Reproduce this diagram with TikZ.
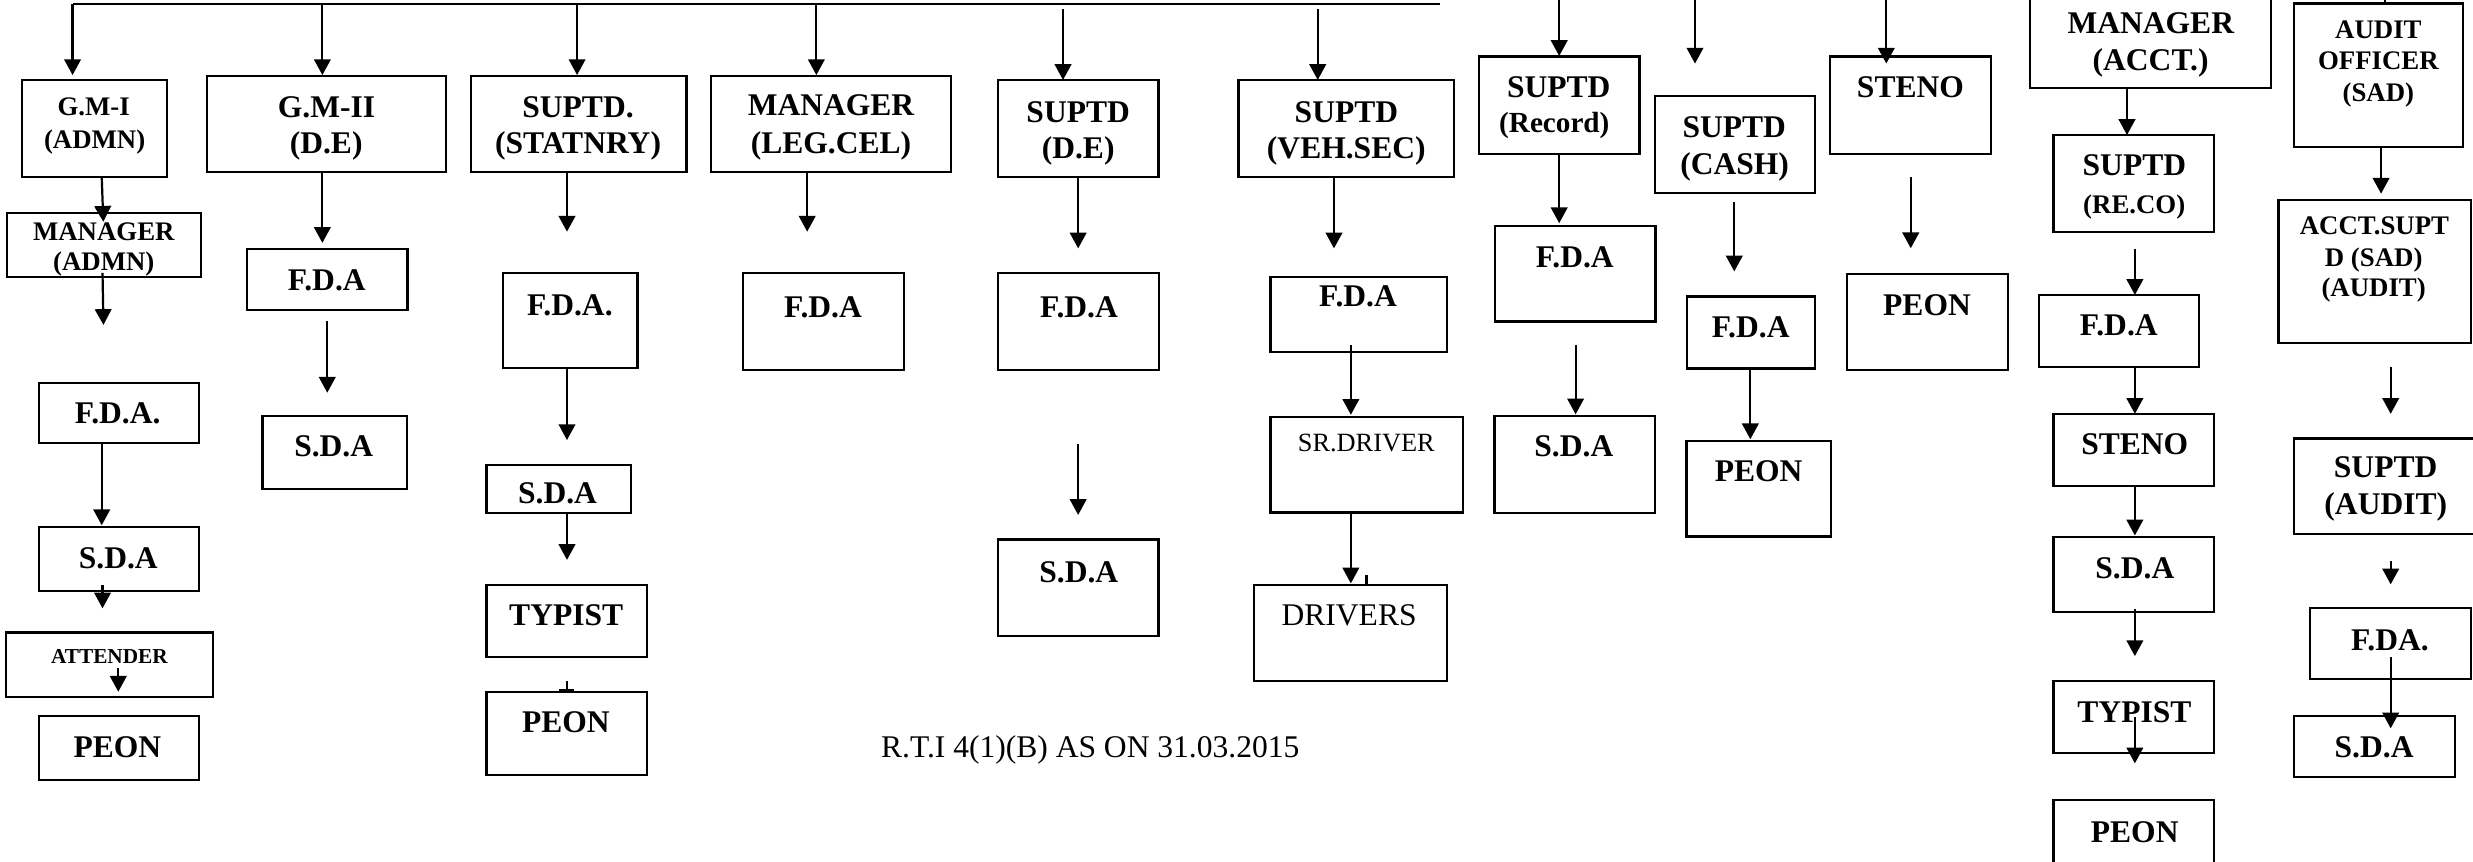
\documentclass[tikz,border=0pt]{standalone}
\usepackage{fontspec}
\setmainfont{Liberation Serif}
\usetikzlibrary{arrows.meta,fit}
\newcommand\mybox[5]{\node[bx, fit={(#2,#3) (#4,#5)}] (#1) {};}
\newcommand\mytext[5]{\node[#4] (#1) at (#2,#3) {#5};}
\newcommand\myarrow[5]{\coordinate (#1s) at (#2,#3); \coordinate (#1e) at (#4,#5); \draw[arr] (#1s) -- (#1e);}
\newcommand\myline[5]{\coordinate (#1s) at (#2,#3); \coordinate (#1e) at (#4,#5); \draw[ln] (#1s) -- (#1e);}
\begin{document}
\begin{tikzpicture}[x=1pt,y=-1pt,
  bx/.style={draw, line width=1.4pt, inner sep=0pt, outer sep=0pt},
  arr/.style={line width=1.4pt, -{Triangle[length=10pt,width=10.5pt]}},
  ln/.style={line width=1.4pt},
  tb/.style={inner sep=0pt, text height=13.2pt, text depth=0pt, font=\fontsize{20}{24}\selectfont\bfseries},
  tr/.style={inner sep=0pt, text height=12.2pt, text depth=0pt, font=\fontsize{18.5}{22}\selectfont\bfseries},
  ts/.style={inner sep=0pt, text height=11.2pt, text depth=0pt, font=\fontsize{17}{20}\selectfont\bfseries},
  ta/.style={inner sep=0pt, text height=8.9pt, text depth=0pt, font=\fontsize{13.5}{16}\selectfont\bfseries},
  rs/.style={inner sep=0pt, text height=11pt, text depth=0pt, font=\fontsize{16.7}{20}\selectfont},
  rb/.style={inner sep=0pt, text height=13.2pt, text depth=0pt, font=\fontsize{20}{24}\selectfont}
]
\useasboundingbox (0,0) rectangle (1568,546);
% ---------- boxes ----------
\mybox{bGMI}{14.1}{50.7}{106.1}{112}
\mybox{bMGRA}{4.2}{135}{127.4}{175.5}
\mybox{bFDAa}{24.6}{242.6}{126}{281}
\mybox{bSDAa}{24.6}{334}{126}{374.5}
\mybox{bATT}{4}{401}{135.3}{441.7}
\mybox{bPEONa}{24.6}{454}{126}{494.6}
\mybox{bGMII}{131}{48.2}{283}{108.9}
\mybox{bFDAb}{156.5}{158}{258.4}{196.6}
\mybox{bSDAb}{166.4}{264}{258}{310}
\mybox{bSTAT}{298.6}{48.2}{435.3}{108.9}
\mybox{bFDAc}{319}{172.9}{404.2}{233.1}
\mybox{bSDAc}{308.5}{294.8}{400}{325.3}
\mybox{bTYPc}{308.5}{370.7}{410.2}{416.4}
\mybox{bPEONc}{308.5}{438.6}{410.2}{491.4}
\mybox{bLEG}{450.6}{48.2}{602.9}{108.9}
\mybox{bFDAd}{471.2}{173.3}{573}{234.6}
\mybox{bDE}{633}{50.7}{734.5}{112}
\mybox{bFDAe}{633}{173.3}{735}{234.6}
\mybox{bSDAe}{633}{342}{734.5}{403.3}
\mybox{bVEH}{785.3}{50.7}{922}{112}
\mybox{bFDAf}{805.6}{175.4}{917.3}{223}
\mybox{bSRD}{805.6}{264.2}{927.6}{325}
\mybox{bDRV}{795.3}{370.7}{917.3}{431.8}
\mybox{bREC}{937.6}{35.8}{1039.5}{97.4}
\mybox{bFDAg}{948}{143.1}{1049.7}{203.8}
\mybox{bSDAg}{947.6}{263.8}{1049.2}{325.3}
\mybox{bCASH}{1049.2}{61.1}{1150.6}{122.3}
\mybox{bFDAh}{1069.8}{188}{1150.6}{233.7}
\mybox{bPEONh}{1069.3}{279.6}{1160.8}{340.1}
\mybox{bSTEN}{1160.3}{35.8}{1262.2}{97.4}
\mybox{bPEONi}{1171}{173.7}{1273}{234.8}
\mybox{bACCT}{1287}{-10}{1440}{55.8}
\mybox{bRECO}{1302}{85.6}{1404}{146.9}
\mybox{bFDAj}{1292.6}{187}{1394.4}{232.5}
\mybox{bSTENj}{1302}{262.4}{1404}{308.2}
\mybox{bSDAj}{1302}{340.3}{1404}{387.8}
\mybox{bTYPj}{1302}{431.8}{1404}{477.5}
\mybox{bPEONj}{1302}{507.2}{1404}{560}
\mybox{bAO}{1454.6}{2.25}{1561.6}{93}
\mybox{bAS}{1444.6}{126.6}{1566.5}{217.6}
\mybox{bSA}{1454.6}{278}{1572}{338.6}
\mybox{bFDAk}{1464.6}{385.7}{1566.5}{430.5}
\mybox{bSDAk}{1454.6}{454}{1556.6}{492.4}
% ---------- texts ----------
\mytext{t1}{59.4}{67.6}{ts}{G.M-I}
\mytext{t2}{60}{88.8}{ts}{(ADMN)}
\mytext{t3}{65.8}{146.9}{ts}{MANAGER}
\mytext{t4}{65.8}{165.9}{ts}{(ADMN)}
\mytext{t5}{74.6}{262}{tb}{F.D.A.}
\mytext{t6}{75}{354}{tb}{S.D.A}
\mytext{t7}{69.4}{416}{ta}{ATTENDER}
\mytext{t8}{74.4}{473.4}{tb}{PEON}
\mytext{t9}{207}{67.6}{tb}{G.M-II}
\mytext{t10}{206.8}{90.9}{tb}{(D.E)}
\mytext{t11}{207.2}{177.5}{tb}{F.D.A}
\mytext{t12}{211.6}{283}{tb}{S.D.A}
\mytext{t13}{366.5}{67.6}{tb}{SUPTD.}
\mytext{t14}{366.5}{90.9}{tb}{(STATNRY)}
\mytext{t15}{361.3}{193.4}{tb}{F.D.A.}
\mytext{t16}{353.5}{312.8}{tb}{S.D.A}
\mytext{t17}{359}{390}{tb}{TYPIST}
\mytext{t18}{358.8}{457.6}{tb}{PEON}
\mytext{t19}{526.9}{66.6}{tb}{MANAGER}
\mytext{t20}{526.9}{90.9}{tb}{(LEG.CEL)}
\mytext{t21}{521.8}{194.4}{tb}{F.D.A}
\mytext{t22}{683.6}{70.8}{tb}{SUPTD}
\mytext{t23}{683.6}{94}{tb}{(D.E)}
\mytext{t24}{684.1}{194.4}{tb}{F.D.A}
\mytext{t25}{684}{362.5}{tb}{S.D.A}
\mytext{t26}{853.7}{70.8}{tb}{SUPTD}
\mytext{t27}{853.6}{94}{tb}{(VEH.SEC)}
\mytext{t28}{861}{188}{tb}{F.D.A}
\mytext{t29}{866.3}{281}{rs}{SR.DRIVER}
\mytext{t30}{855.4}{390}{rb}{DRIVERS}
\mytext{t31}{691.3}{473.4}{rb}{R.T.I 4(1)(B) AS ON 31.03.2015}
\mytext{t32}{988.3}{55.5}{tb}{SUPTD}
\mytext{t33}{985.5}{78.1}{tr}{(Record)}
\mytext{t34}{998.5}{163}{tb}{F.D.A}
\mytext{t35}{997.9}{283}{tb}{S.D.A}
\mytext{t36}{1099.6}{80.4}{tb}{SUPTD}
\mytext{t37}{1099.8}{104.2}{tb}{(CASH)}
\mytext{t38}{1110}{207.2}{tb}{F.D.A}
\mytext{t39}{1115}{298.9}{tb}{PEON}
\mytext{t40}{1211.3}{55.5}{tb}{STENO}
\mytext{t41}{1221.8}{193.6}{tb}{PEON}
\mytext{t42}{1363.7}{14.6}{tb}{MANAGER}
\mytext{t43}{1363.6}{38.3}{tb}{(ACCT.)}
\mytext{t44}{1353.3}{104.7}{tb}{SUPTD}
\mytext{t45}{1353.2}{129.5}{ts}{(RE.CO)}
\mytext{t46}{1343.4}{206}{tb}{F.D.A}
\mytext{t47}{1353.5}{281.6}{tb}{STENO}
\mytext{t48}{1353.6}{360.3}{tb}{S.D.A}
\mytext{t49}{1353.3}{451.2}{tb}{TYPIST}
\mytext{t50}{1353.5}{527.3}{tb}{PEON}
\mytext{t51}{1508}{19.1}{ts}{AUDIT}
\mytext{t52}{1508}{38.3}{ts}{OFFICER}
\mytext{t53}{1508}{58.6}{ts}{(SAD)}
\mytext{t54}{1505.5}{143}{ts}{ACCT.SUPT}
\mytext{t55}{1505}{163.3}{ts}{D (SAD)}
\mytext{t56}{1505}{182.5}{ts}{(AUDIT)}
\mytext{t57}{1512.6}{296.2}{tb}{SUPTD}
\mytext{t58}{1512.7}{319.8}{tb}{(AUDIT)}
\mytext{t59}{1515.3}{405.8}{tb}{F.DA.}
\mytext{t60}{1505.3}{473.4}{tb}{S.D.A}
% ---------- connectors ----------
\coordinate (topL) at (46,2.5);
\coordinate (topR) at (913,2.5);
\draw[ln] (topL) -- (topR);
\myarrow{a1}{46}{2.5}{46}{47.6}
\myarrow{a2}{204.4}{2.5}{204.4}{47.6}
\myarrow{a3}{365.9}{2.5}{365.9}{47.6}
\myarrow{a4}{517.6}{2.5}{517.6}{47.6}
\myarrow{a5}{674}{5.9}{674}{50.7}
\myarrow{a6}{835.5}{5.9}{835.5}{50.7}
\myarrow{b1}{64.5}{112}{65.5}{140.6}
\myarrow{b2}{65}{173}{65.6}{206}
\myarrow{b3}{64.5}{281}{64.5}{333}
\myarrow{b4}{65}{371}{65}{385.7}
\myarrow{b5}{75}{423.6}{75}{438.6}
\myarrow{c1}{204.4}{108.9}{204.4}{154}
\myarrow{c2}{207.5}{203.5}{207.5}{249}
\myarrow{d1}{359.5}{108.9}{359.5}{146.9}
\myarrow{d2}{359.5}{233.1}{359.5}{279}
\myarrow{d3}{359.5}{325.3}{359.5}{355}
\myline{d4}{359.5}{432}{359.5}{438.6}
\myline{d5}{354.7}{437.5}{363.7}{437.5}
\myarrow{e1}{511.8}{108.9}{511.8}{146.9}
\myarrow{f1}{683.6}{112}{683.6}{157.5}
\myarrow{f2}{683.6}{281.5}{683.6}{326.5}
\myarrow{g1}{845.8}{112}{845.8}{157.5}
\myarrow{g2}{856.5}{218.7}{856.5}{263}
\myarrow{g3}{856.5}{325}{856.5}{369.9}
\myline{g4}{866.4}{364.6}{866.4}{370.7}
\myarrow{h1}{988.6}{-2}{988.6}{35.5}
\myarrow{h2}{988.6}{97.4}{988.6}{141.5}
\myarrow{h3}{999}{218.5}{999}{262.7}
\myarrow{i1}{1074.7}{-2}{1074.7}{40.3}
\myarrow{i2}{1099.6}{128}{1099.6}{172.1}
\myarrow{i3}{1109.8}{233.7}{1109.8}{278.5}
\myarrow{j1}{1196}{-2}{1196}{40.3}
\myarrow{j2}{1211.5}{112.1}{1211.5}{157.4}
\myarrow{k1}{1348.6}{55.8}{1348.6}{85.6}
\myarrow{k2}{1353.6}{157.7}{1353.6}{187}
\myarrow{k3}{1353.6}{232.5}{1353.6}{262.4}
\myarrow{k4}{1353.6}{308.2}{1353.6}{339.5}
\myarrow{k5}{1353.6}{386}{1353.6}{416}
\myarrow{k6}{1353.6}{454.4}{1353.6}{484}
\myline{m0}{1512.3}{-1}{1512.3}{2.2}
\myarrow{m1}{1509.7}{93}{1509.7}{122.8}
\myarrow{m2}{1515.8}{232.7}{1515.8}{262.4}
\myarrow{m3}{1515.8}{356}{1515.8}{370.5}
\myarrow{m4}{1515.8}{416.8}{1515.8}{461.8}
\end{tikzpicture}
\end{document}
